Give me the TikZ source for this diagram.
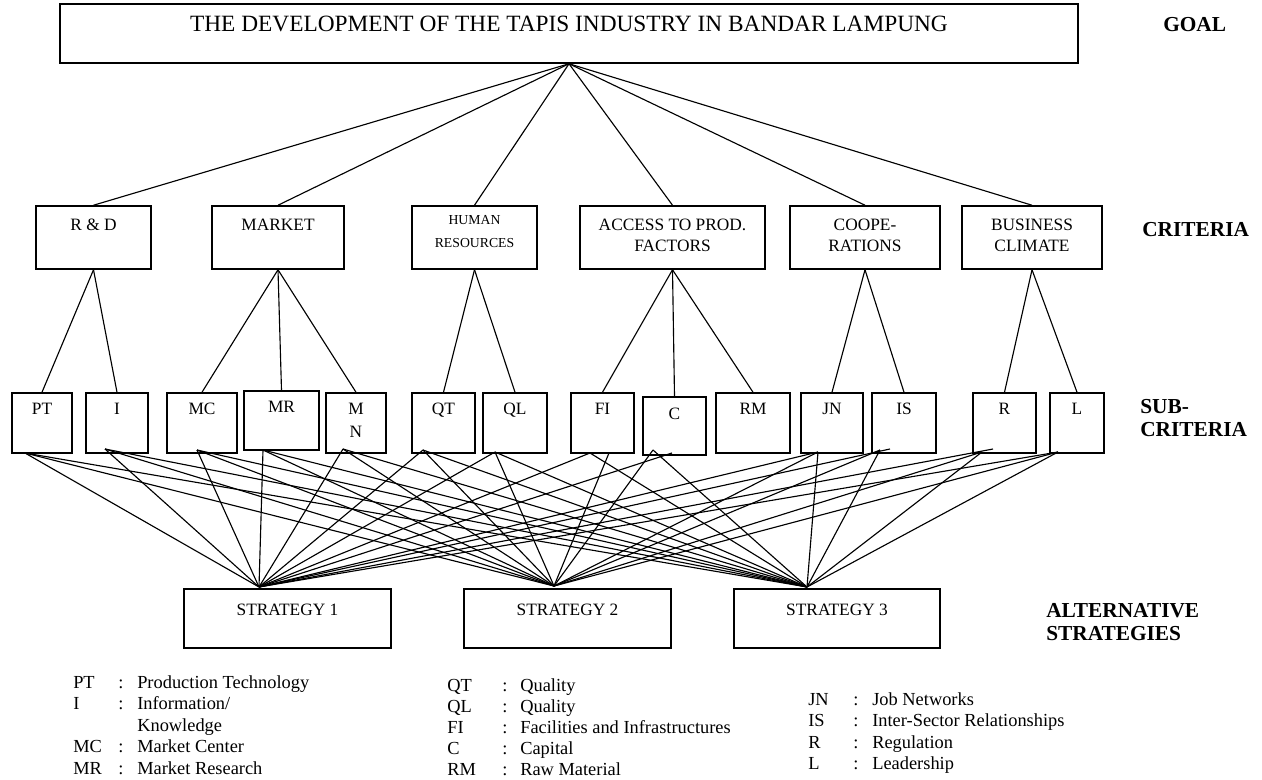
\documentclass[tikz,border=0pt]{standalone}
\usepackage{fontspec}
\setmainfont{Liberation Serif}
\begin{document}
\begin{tikzpicture}[x=0.75pt,y=-0.75pt,
  bx/.style 2 args={draw, line width=1.15pt, inner sep=0pt, minimum width=#1*0.75pt, minimum height=#2*0.75pt},
  ln/.style={line width=0.85pt},
  tx/.style={anchor=base, inner sep=0pt, font=\fontsize{13}{15}\selectfont},
  sm/.style={anchor=base, inner sep=0pt, font=\fontsize{10.3}{12}\selectfont},
  lab/.style={anchor=base west, inner sep=0pt, font=\fontsize{16}{19}\selectfont\bfseries},
  leg/.style={anchor=base west, inner sep=0pt, font=\fontsize{13.8}{16}\selectfont}]
\useasboundingbox (0,0) rectangle (1262,780);

% ---------- goal ----------
\node[bx={1018}{59}] (goal) at (569,33.5) {};
\node[tx, font=\fontsize{17.5}{20}\selectfont] (goalt) at (569,32) {THE DEVELOPMENT OF THE TAPIS INDUSTRY IN BANDAR LAMPUNG};

% ---------- level labels ----------
\node[lab] (lgoal) at (1163,32) {GOAL};
\node[lab] (lcrit) at (1142,237) {CRITERIA};
\node[lab] (lsub1) at (1140,413) {SUB-};
\node[lab] (lsub2) at (1140,436) {CRITERIA};
\node[lab] (lalt1) at (1046,617) {ALTERNATIVE};
\node[lab] (lalt2) at (1046,640) {STRATEGIES};

% ---------- criteria ----------
\node[bx={115}{63}] (rd) at (93.5,237.5) {};
\node[tx] (rdt) at (93.5,231) {R \& D};
\node[bx={132}{63}] (mk) at (278,237.5) {};
\node[tx] (mkt) at (278,231) {MARKET};
\node[bx={125}{63}] (hr) at (474.5,237.5) {};
\node[sm] (hrt1) at (474.5,225) {HUMAN};
\node[sm] (hrt2) at (474.5,248) {RESOURCES};
\node[bx={185}{63}] (ac) at (672.5,237.5) {};
\node[tx] (act1) at (672.5,231) {ACCESS TO PROD.};
\node[tx] (act2) at (672.5,252) {FACTORS};
\node[bx={150}{63}] (co) at (865,237.5) {};
\node[tx] (cot1) at (865,231) {COOPE-};
\node[tx] (cot2) at (865,252) {RATIONS};
\node[bx={140}{63}] (bc) at (1032,237.5) {};
\node[tx] (bct1) at (1032,231) {BUSINESS};
\node[tx] (bct2) at (1032,252) {CLIMATE};

% ---------- sub-criteria ----------
\node[bx={60}{60}] (pt) at (42,423) {};
\node[tx] (ptt) at (42,414) {PT};
\node[bx={62}{60}] (i) at (117,423) {};
\node[tx] (it) at (117,414) {I};
\node[bx={70}{60}] (mc) at (202,423) {};
\node[tx] (mct) at (202,414) {MC};
\node[bx={75}{59}] (mr) at (281.5,420.5) {};
\node[tx] (mrt) at (281.5,412) {MR};
\node[bx={60}{60}] (mn) at (356,423) {};
\node[tx] (mnt1) at (356,414) {M};
\node[tx] (mnt2) at (356,437) {N};
\node[bx={63}{60}] (qt) at (443.5,423) {};
\node[tx] (qtt) at (443.5,414) {QT};
\node[bx={64}{60}] (ql) at (515,423) {};
\node[tx] (qlt) at (515,414) {QL};
\node[bx={63}{60}] (fi) at (602.5,423) {};
\node[tx] (fit) at (602.5,414) {FI};
\node[bx={63}{58}] (c) at (674.5,426) {};
\node[tx] (ct) at (674.5,419) {C};
\node[bx={74}{60}] (rm) at (753,423) {};
\node[tx] (rmt) at (753,414) {RM};
\node[bx={62}{60}] (jn) at (832,423) {};
\node[tx] (jnt) at (832,414) {JN};
\node[bx={64}{60}] (is) at (904,423) {};
\node[tx] (ist) at (904,414) {IS};
\node[bx={63}{60}] (r) at (1004.5,423) {};
\node[tx] (rt) at (1004.5,414) {R};
\node[bx={54}{60}] (l) at (1077,423) {};
\node[tx] (lt) at (1077,414) {L};

% ---------- strategies ----------
\node[bx={207}{59}] (s1) at (287.5,618.5) {};
\node[tx] (s1t) at (287.5,615) {STRATEGY 1};
\node[bx={207}{59}] (s2) at (567.5,618.5) {};
\node[tx] (s2t) at (567.5,615) {STRATEGY 2};
\node[bx={206}{59}] (s3) at (837,618.5) {};
\node[tx] (s3t) at (837,615) {STRATEGY 3};

% ---------- goal -> criteria ----------
\foreach \n in {rd,mk,hr,ac,co,bc} \draw[ln] (goal.south) -- (\n.north);

% ---------- criteria -> sub-criteria ----------
\draw[ln] (rd.south) -- (pt.north);
\draw[ln] (rd.south) -- (i.north);
\draw[ln] (mk.south) -- (mc.north);
\draw[ln] (mk.south) -- (mr.north);
\draw[ln] (mk.south) -- (mn.north);
\draw[ln] (hr.south) -- (qt.north);
\draw[ln] (hr.south) -- (ql.north);
\draw[ln] (ac.south) -- (fi.north);
\draw[ln] (ac.south) -- (c.north);
\draw[ln] (ac.south) -- (rm.north);
\draw[ln] (co.south) -- (jn.north);
\draw[ln] (co.south) -- (is.north);
\draw[ln] (bc.south) -- (r.north);
\draw[ln] (bc.south) -- (l.north);

% ---------- sub-criteria -> strategies ----------
\coordinate (s1p) at (259,587);
\coordinate (s2p) at (554,586);
\coordinate (s3p) at (807,587);
\coordinate (pto) at (25,453);
\coordinate (io) at (105,449);
\coordinate (mco) at (197,450);
\coordinate (mro) at (263,450);
\coordinate (mno) at (343,449);
\coordinate (qto) at (423,450);
\coordinate (qlo) at (495,452);
\coordinate (fio) at (590,453);
\coordinate (fio2) at (609,453);
\coordinate (co1) at (653,450);
\coordinate (co2) at (672,453);
\coordinate (jno) at (818,452);
\coordinate (iso) at (880,450);
\coordinate (iso2) at (890,449);
\coordinate (ro) at (982,452);
\coordinate (ro2) at (993,449);
\coordinate (lo) at (1058,452);

\foreach \o in {pto,io,mco,mro,mno,qto,qlo,jno,lo}{
  \draw[ln] (\o) -- (s1p);
  \draw[ln] (\o) -- (s2p);
  \draw[ln] (\o) -- (s3p);
}
\draw[ln] (fio) -- (s1p);
\draw[ln] (fio2) -- (s2p);
\draw[ln] (fio) -- (s3p);
\draw[ln] (co2) -- (s1p);
\draw[ln] (co1) -- (s2p);
\draw[ln] (co1) -- (s3p);
\draw[ln] (iso2) -- (s1p);
\draw[ln] (iso) -- (s2p);
\draw[ln] (iso) -- (s3p);
\draw[ln] (ro2) -- (s1p);
\draw[ln] (ro) -- (s2p);
\draw[ln] (ro) -- (s3p);

% ---------- legend ----------
\node[leg] (a1) at (73,688) {PT};
\node[leg] (a1c) at (118,688) {:};
\node[leg] (a1d) at (137,688) {Production Technology};
\node[leg] (a2) at (73,709.5) {I};
\node[leg] (a2c) at (118,709.5) {:};
\node[leg] (a2d) at (137,709.5) {Information/};
\node[leg] (a2e) at (137,731) {Knowledge};
\node[leg] (a3) at (73,752.5) {MC};
\node[leg] (a3c) at (118,752.5) {:};
\node[leg] (a3d) at (137,752.5) {Market Center};
\node[leg] (a4) at (73,774) {MR};
\node[leg] (a4c) at (118,774) {:};
\node[leg] (a4d) at (137,774) {Market Research};

\node[leg] (b1) at (447,691) {QT};
\node[leg] (b1c) at (502,691) {:};
\node[leg] (b1d) at (520,691) {Quality};
\node[leg] (b2) at (447,712) {QL};
\node[leg] (b2c) at (502,712) {:};
\node[leg] (b2d) at (520,712) {Quality};
\node[leg] (b3) at (447,733) {FI};
\node[leg] (b3c) at (502,733) {:};
\node[leg] (b3d) at (520,733) {Facilities and Infrastructures};
\node[leg] (b4) at (447,754.5) {C};
\node[leg] (b4c) at (502,754.5) {:};
\node[leg] (b4d) at (520,754.5) {Capital};
\node[leg] (b5) at (447,775.5) {RM};
\node[leg] (b5c) at (502,775.5) {:};
\node[leg] (b5d) at (520,775.5) {Raw Material};

\node[leg] (c1) at (808,705) {JN};
\node[leg] (c1c) at (853,705) {:};
\node[leg] (c1d) at (872,705) {Job Networks};
\node[leg] (c2) at (808,726.5) {IS};
\node[leg] (c2c) at (853,726.5) {:};
\node[leg] (c2d) at (872,726.5) {Inter-Sector Relationships};
\node[leg] (c3) at (808,748) {R};
\node[leg] (c3c) at (853,748) {:};
\node[leg] (c3d) at (872,748) {Regulation};
\node[leg] (c4) at (808,769) {L};
\node[leg] (c4c) at (853,769) {:};
\node[leg] (c4d) at (872,769) {Leadership};
\end{tikzpicture}
\end{document}
